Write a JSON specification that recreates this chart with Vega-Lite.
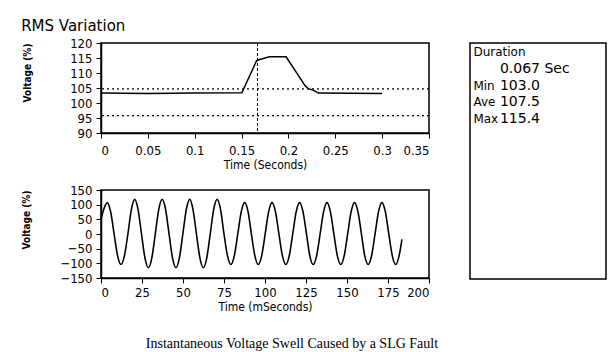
{
  "$schema": "https://vega.github.io/schema/vega-lite/v6.json",
  "background": "white",
  "padding": {"left": 21, "top": 19, "right": 4, "bottom": 2},
  "title": {"text": "Instantaneous Voltage Swell Caused by a SLG Fault", "orient": "bottom", "anchor": "middle", "font": "Liberation Serif", "fontSize": 14, "fontWeight": "normal", "color": "black", "offset": 24, "dx": -22},
  "config": {
    "view": {"stroke": "black", "strokeWidth": 1.5},
    "axis": {"grid": false, "domainColor": "black", "domainWidth": 1.5, "tickColor": "black", "labelColor": "black", "titleColor": "black", "labelFont": "DejaVu Sans Condensed, Liberation Sans, sans-serif", "labelFontSize": 13, "titleFont": "DejaVu Sans Condensed, Liberation Sans, sans-serif", "titleFontSize": 12, "titleFontWeight": "normal", "tickSize": 5, "labelPadding": 4, "labelOverlap": false}
  },
  "vconcat": [
    {
      "title": {"text": "RMS Variation", "anchor": "start", "font": "DejaVu Sans", "fontSize": 15, "fontWeight": "normal", "color": "black", "offset": 2},
      "spacing": 38,
      "hconcat": [
        {
          "spacing": 12,
          "vconcat": [
            {
              "width": 328,
              "height": 90,
              "layer": [
                {
                  "data": {"values": [
                    {"t": 0, "v": 103.3}, {"t": 0.05, "v": 103.2}, {"t": 0.1, "v": 103.3}, {"t": 0.1503, "v": 103.4},
                    {"t": 0.166, "v": 114.1}, {"t": 0.1695, "v": 114.5}, {"t": 0.1797, "v": 115.4}, {"t": 0.1975, "v": 115.4},
                    {"t": 0.2177, "v": 105.8}, {"t": 0.221, "v": 104.8}, {"t": 0.227, "v": 104.2}, {"t": 0.232, "v": 103.3},
                    {"t": 0.3, "v": 103.2}
                  ]},
                  "mark": {"type": "line", "color": "black", "strokeWidth": 1.5},
                  "encoding": {
                    "x": {"field": "t", "type": "quantitative", "scale": {"domain": [0, 0.35], "nice": false, "zero": false},
                      "axis": {"title": "Time (Seconds)", "values": [0, 0.05, 0.1, 0.15, 0.2, 0.25, 0.3, 0.35], "format": "~g", "titlePadding": 2, "labelPadding": 6}},
                    "y": {"field": "v", "type": "quantitative", "scale": {"domain": [90, 120], "nice": false, "zero": false},
                      "axis": {"title": "Voltage (%)", "values": [90, 95, 100, 105, 110, 115, 120], "labelOverlap": false, "titleAnchor": "end", "titlePadding": 37, "titleFontWeight": "bold", "titleFontSize": 10}}
                  }
                },
                {
                  "data": {"values": [{"limit": "upper", "v": 104.7}, {"limit": "lower", "v": 95.8}]},
                  "mark": {"type": "rule", "color": "black", "strokeWidth": 1.3, "strokeDash": [2, 3]},
                  "encoding": {"y": {"field": "v", "type": "quantitative",
                    "axis": {"title": "Voltage (%)", "values": [90, 95, 100, 105, 110, 115, 120], "labelOverlap": false, "titleAnchor": "end", "titlePadding": 37, "titleFontWeight": "bold", "titleFontSize": 10}}}
                },
                {
                  "data": {"values": [{"t": 0.167}]},
                  "mark": {"type": "rule", "color": "black", "strokeWidth": 1, "strokeDash": [3, 2]},
                  "encoding": {"x": {"field": "t", "type": "quantitative",
                    "axis": {"title": "Time (Seconds)", "values": [0, 0.05, 0.1, 0.15, 0.2, 0.25, 0.3, 0.35], "format": "~g", "titlePadding": 2, "labelPadding": 6}}}
                }
              ]
            },
            {
              "width": 328,
              "height": 88,
              "data": {"values": [
                {"ms": 0, "v": 50}, {"ms": 1.7, "v": 84}, {"ms": 3.8, "v": 107}, {"ms": 5.9, "v": 75.6}, {"ms": 8.0, "v": 0},
                {"ms": 10.1, "v": -73.5}, {"ms": 12.2, "v": -104}, {"ms": 14.3, "v": -73.5}, {"ms": 16.4, "v": 0}, {"ms": 18.5, "v": 83.4},
                {"ms": 20.6, "v": 118}, {"ms": 22.6, "v": 83.4}, {"ms": 24.7, "v": 0}, {"ms": 26.8, "v": -81.3}, {"ms": 28.9, "v": -115},
                {"ms": 31.0, "v": -81.3}, {"ms": 33.1, "v": 0}, {"ms": 35.2, "v": 83.4}, {"ms": 37.3, "v": 118}, {"ms": 39.4, "v": 83.4},
                {"ms": 41.5, "v": 0}, {"ms": 43.6, "v": -81.3}, {"ms": 45.7, "v": -115}, {"ms": 47.8, "v": -81.3}, {"ms": 49.9, "v": 0},
                {"ms": 52.0, "v": 83.4}, {"ms": 54.1, "v": 118}, {"ms": 56.1, "v": 83.4}, {"ms": 58.2, "v": 0}, {"ms": 60.3, "v": -81.3},
                {"ms": 62.4, "v": -115}, {"ms": 64.5, "v": -81.3}, {"ms": 66.6, "v": 0}, {"ms": 68.7, "v": 83.4}, {"ms": 70.8, "v": 118},
                {"ms": 72.9, "v": 83.4}, {"ms": 75.0, "v": 0}, {"ms": 77.1, "v": -73.5}, {"ms": 79.2, "v": -104}, {"ms": 81.3, "v": -73.5},
                {"ms": 83.4, "v": 0}, {"ms": 85.5, "v": 75.6}, {"ms": 87.6, "v": 107}, {"ms": 89.7, "v": 75.6}, {"ms": 91.7, "v": 0},
                {"ms": 93.8, "v": -73.5}, {"ms": 95.9, "v": -104}, {"ms": 98.0, "v": -73.5}, {"ms": 100.1, "v": 0}, {"ms": 102.2, "v": 75.6},
                {"ms": 104.3, "v": 107}, {"ms": 106.4, "v": 75.6}, {"ms": 108.5, "v": 0}, {"ms": 110.6, "v": -73.5}, {"ms": 112.7, "v": -104},
                {"ms": 114.8, "v": -73.5}, {"ms": 116.9, "v": 0}, {"ms": 119.0, "v": 75.6}, {"ms": 121.1, "v": 107}, {"ms": 123.2, "v": 75.6},
                {"ms": 125.3, "v": 0}, {"ms": 127.3, "v": -73.5}, {"ms": 129.4, "v": -104}, {"ms": 131.5, "v": -73.5}, {"ms": 133.6, "v": 0},
                {"ms": 135.7, "v": 75.6}, {"ms": 137.8, "v": 107}, {"ms": 139.9, "v": 75.6}, {"ms": 142.0, "v": 0}, {"ms": 144.1, "v": -73.5},
                {"ms": 146.2, "v": -104}, {"ms": 148.3, "v": -73.5}, {"ms": 150.4, "v": 0}, {"ms": 152.5, "v": 75.6}, {"ms": 154.6, "v": 107},
                {"ms": 156.7, "v": 75.6}, {"ms": 158.8, "v": 0}, {"ms": 160.8, "v": -73.5}, {"ms": 162.9, "v": -104}, {"ms": 165.0, "v": -73.5},
                {"ms": 167.1, "v": 0}, {"ms": 169.2, "v": 75.6}, {"ms": 171.3, "v": 107}, {"ms": 173.4, "v": 75.6}, {"ms": 175.5, "v": 0},
                {"ms": 177.6, "v": -73.5}, {"ms": 179.7, "v": -104}, {"ms": 181.8, "v": -73.5}, {"ms": 183.5, "v": -18}
              ]},
              "mark": {"type": "line", "color": "black", "strokeWidth": 1.6, "interpolate": "monotone"},
              "encoding": {
                "x": {"field": "ms", "type": "quantitative", "scale": {"domain": [0, 200], "nice": false, "zero": false},
                  "axis": {"title": "Time (mSeconds)", "values": [0, 25, 50, 75, 100, 125, 150, 175, 200], "titlePadding": 2, "labelPadding": 3}},
                "y": {"field": "v", "type": "quantitative", "scale": {"domain": [-150, 150], "nice": false, "zero": false},
                  "axis": {"title": "Voltage (%)", "values": [-150, -100, -50, 0, 50, 100, 150], "titleAnchor": "end", "titlePadding": 28, "titleFontWeight": "bold", "titleFontSize": 10}}
              }
            }
          ]
        },
        {
          "width": 136,
          "height": 236,
          "data": {"values": [
            {"line": 1, "label": "Duration", "value": ""},
            {"line": 2, "label": "", "value": "0.067 Sec"},
            {"line": 3, "label": "Min", "value": "103.0"},
            {"line": 4, "label": "Ave", "value": "107.5"},
            {"line": 5, "label": "Max", "value": "115.4"}
          ]},
          "encoding": {
            "y": {"field": "line", "type": "quantitative", "scale": {"domain": [0.46, 14.51], "reverse": true, "nice": false, "zero": false}, "axis": null}
          },
          "layer": [
            {
              "mark": {"type": "text", "align": "left", "baseline": "middle", "font": "DejaVu Sans", "fontSize": 12, "color": "black"},
              "encoding": {
                "x": {"datum": 0.025, "type": "quantitative", "scale": {"domain": [0, 1], "nice": false, "zero": false}, "axis": null},
                "text": {"field": "label"}
              }
            },
            {
              "mark": {"type": "text", "align": "left", "baseline": "middle", "font": "DejaVu Sans", "fontSize": 14, "color": "black"},
              "encoding": {
                "x": {"datum": 0.22, "type": "quantitative", "scale": {"domain": [0, 1], "nice": false, "zero": false}, "axis": null},
                "text": {"field": "value"}
              }
            }
          ]
        }
      ]
    }
  ]
}
